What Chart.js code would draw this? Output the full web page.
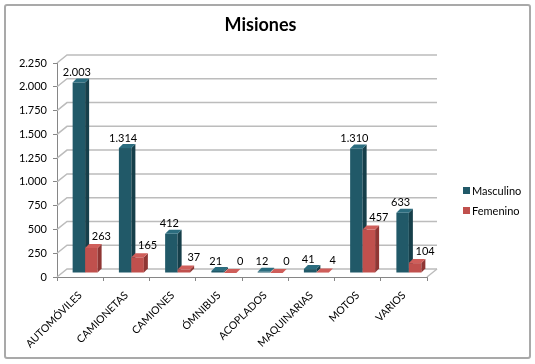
<!DOCTYPE html>
<html>
<head>
<meta charset="utf-8">
<script src="https://cdn.jsdelivr.net/npm/chart.js@4.4.0/dist/chart.umd.min.js"></script>
<style>
  html, body { margin: 0; padding: 0; background: #fff; }
  #wrap { position: relative; width: 535px; height: 364px; }
  #frame { position: absolute; left: 4px; top: 4px; width: 523px; height: 351px; border: 2px solid #a9a9a9; border-radius: 3px; }
  canvas { position: absolute; left: 0; top: 0; }
</style>
</head>
<body>
<div id="wrap">
  <div id="frame"></div>
  <canvas id="chart" width="535" height="364"></canvas>
</div>
<script>
const categories = ['AUTOMÓVILES', 'CAMIONETAS', 'CAMIONES', 'ÓMNIBUS', 'ACOPLADOS', 'MAQUINARIAS', 'MOTOS', 'VARIOS'];
const masculino = [2003, 1314, 412, 21, 12, 41, 1310, 633];
const femenino = [263, 165, 37, 0, 0, 4, 457, 104];
const yMax = 2250;
const yStep = 250;

// formats 2003 -> "2.003"
function fmt(v) {
    return String(v).replace(/\B(?=(\d{3})+(?!\d))/g, '.');
}

const WALL = { x: 10, y: -8 };   // back wall offset
const SHIFT = { x: 5, y: -4 };   // bars stand in the middle of the floor
const DEPTH = { x: 4, y: -4 };   // bar depth
const colors = [
    { front: '#215968', side: '#163f4a', top: '#2b6d7f' },
    { front: '#c0504d', side: '#8f3634', top: '#cf5e5a' }
];
const labelOffset = [-2, 10];

function poly(ctx, pts) {
    ctx.beginPath();
    ctx.moveTo(pts[0][0], pts[0][1]);
    for (let k = 1; k < pts.length; k++) ctx.lineTo(pts[k][0], pts[k][1]);
    ctx.closePath();
    ctx.fill();
}

const threeD = {
    id: 'threeD',
    beforeDatasetsDraw(chart) {
        const ctx = chart.ctx;
        const a = chart.chartArea;
        const y = chart.scales.y;
        ctx.save();

        // back wall grid lines
        ctx.strokeStyle = '#bcbcbc';
        ctx.lineWidth = 1.5;
        y.ticks.forEach(t => {
            const py = y.getPixelForValue(t.value);
            ctx.beginPath();
            ctx.moveTo(a.left, py);
            ctx.lineTo(a.left + WALL.x, py + WALL.y);
            ctx.lineTo(a.right + WALL.x, py + WALL.y);
            ctx.stroke();
        });
        ctx.beginPath();
        ctx.moveTo(a.right, a.bottom);
        ctx.lineTo(a.right + WALL.x, a.bottom + WALL.y);
        ctx.stroke();

        // bars, category by category so the red front hides the teal side
        for (let i = 0; i < chart.data.labels.length; i++) {
            chart.data.datasets.forEach((ds, d) => {
                const bar = chart.getDatasetMeta(d).data[i];
                const c = colors[d];
                const l = bar.x - bar.width / 2 + SHIFT.x;
                const r = bar.x + bar.width / 2 + SHIFT.x;
                const t = bar.y + SHIFT.y;
                const b = bar.base + SHIFT.y;
                ctx.fillStyle = c.front;
                ctx.fillRect(l, t, r - l, b - t);
                ctx.fillStyle = c.side;
                poly(ctx, [[r, t], [r + DEPTH.x, t + DEPTH.y], [r + DEPTH.x, b + DEPTH.y], [r, b]]);
                ctx.fillStyle = c.top;
                poly(ctx, [[l, t], [l + DEPTH.x, t + DEPTH.y], [r + DEPTH.x, t + DEPTH.y], [r, t]]);
            });
        }

        // value labels
        ctx.fillStyle = '#000';
        ctx.font = '11px Lato';
        ctx.textAlign = 'center';
        ctx.textBaseline = 'middle';
        chart.data.datasets.forEach((ds, d) => {
            chart.getDatasetMeta(d).data.forEach((bar, i) => {
                ctx.fillText(fmt(ds.data[i]), bar.x + SHIFT.x + labelOffset[d], bar.y + SHIFT.y - (d ? 12 : 10));
            });
        });

        // legend
        ctx.textAlign = 'left';
        chart.data.datasets.forEach((ds, d) => {
            const ly = 190 + d * 20;
            ctx.fillStyle = colors[d].front;
            ctx.fillRect(463, ly - 3, 7, 7);
            ctx.fillStyle = '#000';
            ctx.fillText(ds.label, 472, ly + 1);
        });

        ctx.restore();
        return false;
    }
};

new Chart(document.getElementById('chart'), {
    type: 'bar',
    data: {
        labels: categories,
        datasets: [
            { label: 'Masculino', data: masculino, backgroundColor: colors[0].front },
            { label: 'Femenino', data: femenino, backgroundColor: colors[1].front }
        ]
    },
    options: {
        responsive: false,
        animation: false,
        categoryPercentage: 0.54,
        barPercentage: 1,
        layout: { padding: { left: 4, right: 18, top: 4, bottom: 6 } },
        plugins: {
            legend: { display: false },
            tooltip: { enabled: false },
            title: {
                display: true,
                text: 'Misiones',
                color: '#000',
                font: { family: 'Lato', size: 18, weight: 'bold' },
                padding: { top: 10, bottom: 27.4 }
            }
        },
        scales: {
            x: {
                grid: { offset: true, drawOnChartArea: false, tickLength: 4, color: '#868686' },
                border: { color: '#868686' },
                ticks: {
                    color: '#000',
                    font: { family: 'Lato', size: 10.5 },
                    minRotation: 45,
                    maxRotation: 45,
                    padding: 8
                },
                afterFit: s => { s.height = 81; }
            },
            y: {
                min: 0,
                max: yMax,
                grid: { drawOnChartArea: false, tickLength: 4, color: '#868686' },
                border: { color: '#868686' },
                ticks: {
                    stepSize: yStep,
                    color: '#000',
                    font: { family: 'Lato', size: 11 },
                    padding: 6,
                    callback: v => fmt(v)
                },
                afterFit: s => { s.width = 53; }
            },
            spacer: {
                type: 'linear',
                position: 'right',
                grid: { display: false },
                border: { display: false },
                ticks: { display: false },
                afterFit: s => { s.width = 90; }
            }
        }
    },
    plugins: [threeD]
});
</script>
</body>
</html>
